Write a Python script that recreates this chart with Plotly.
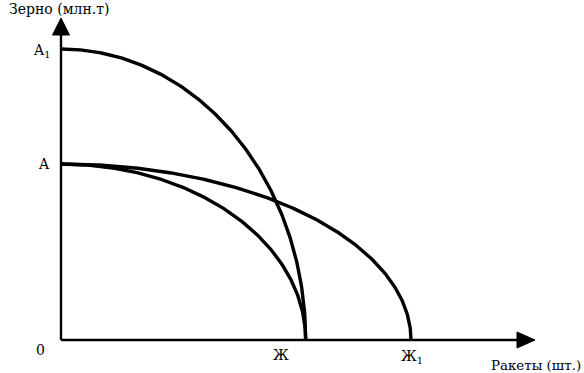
import numpy as np
import plotly.graph_objects as go

# Intercepts (data units: x = rockets, y = grain)
grain_A = 176.0     # A
grain_A1 = 291.0    # A1
rockets_ZH = 244.7  # Ж
rockets_ZH1 = 350.0 # Ж1

curves = [
    ("A1-Ж", grain_A1, rockets_ZH),
    ("A-Ж", grain_A, rockets_ZH),
    ("A-Ж1", grain_A, rockets_ZH1),
]

fig = go.Figure()
t = np.linspace(0, np.pi / 2, 200)
for name, yi, xi in curves:
    fig.add_trace(go.Scatter(x=xi * np.sin(t), y=yi * np.cos(t), mode="lines",
                             line=dict(color="black", width=3.4), name=name,
                             hoverinfo="skip", showlegend=False))

# axes lines
fig.add_shape(type="line", x0=0, y0=0, x1=458, y1=0, line=dict(color="black", width=2.4))
fig.add_shape(type="line", x0=0, y0=0, x1=0, y1=308, line=dict(color="black", width=2.4))
# arrowheads
fig.add_shape(type="path", path="M 456,8 L 474,0 L 456,-8 Z", fillcolor="black",
              line=dict(color="black", width=1))
fig.add_shape(type="path", path="M -8.5,305 L 0,322 L 8.5,305 Z", fillcolor="black",
              line=dict(color="black", width=1))

serif = "DejaVu Serif"
font = dict(family=serif, size=14, color="black")
ann = [
    dict(x=-9, y=grain_A1 - 2, text="A<sub>1</sub>", xanchor="right", yanchor="middle"),
    dict(x=-9, y=grain_A, text="A", xanchor="right", yanchor="middle"),
    dict(x=-14, y=-10, text="0", xanchor="right", yanchor="middle"),
    dict(x=rockets_ZH - 25, y=-15, text="Ж", xanchor="center", yanchor="middle"),
    dict(x=rockets_ZH1 + 1, y=-17, text="Ж<sub>1</sub>", xanchor="center", yanchor="middle"),
]
for a in ann:
    fig.add_annotation(xref="x", yref="y", showarrow=False, font=font, **a)
fig.add_annotation(xref="x", yref="y", x=522, y=-25, text="Ракеты (шт.)",
                   xanchor="right", yanchor="middle", showarrow=False,
                   font=dict(family=serif, size=13.4, color="black"))
fig.add_annotation(xref="x", yref="y", x=-54, y=331, text="Зерно (млн.т)",
                   xanchor="left", yanchor="middle", showarrow=False,
                   font=dict(family=serif, size=14, color="black"))

fig.update_xaxes(range=[-61, 523], visible=False)
fig.update_yaxes(range=[-33, 340], visible=False)
fig.update_layout(width=584, height=373, margin=dict(l=0, r=0, t=0, b=0),
                  plot_bgcolor="white", paper_bgcolor="white")
fig.write_html("out.html")
